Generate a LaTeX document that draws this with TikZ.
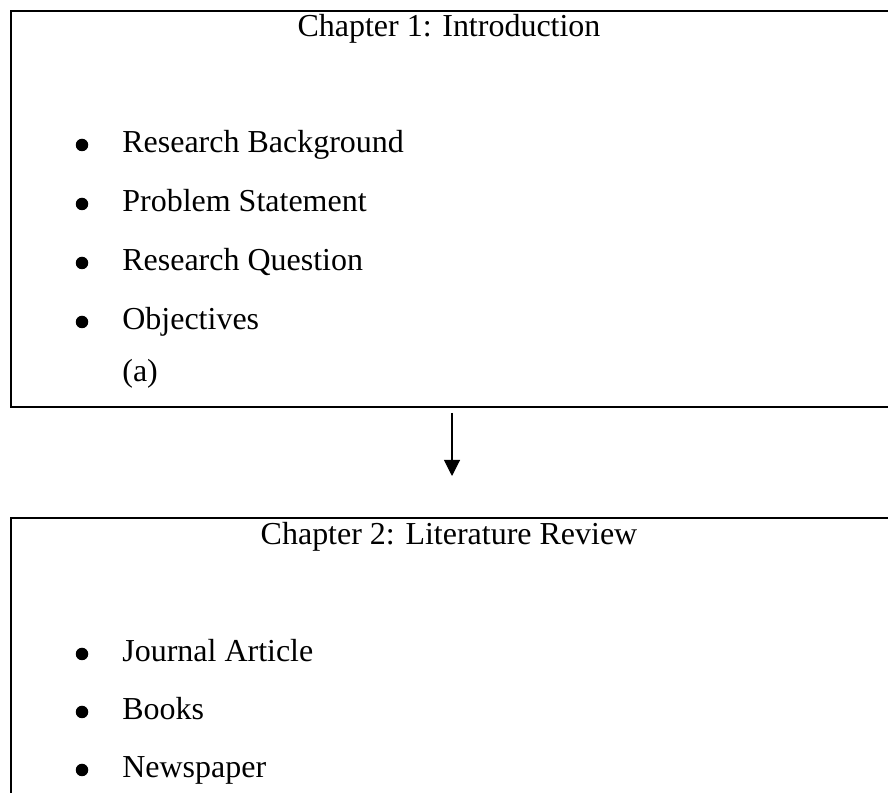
\documentclass[tikz,border=0pt]{standalone}
\usepackage{fontspec}
\setmainfont{Liberation Serif}
\usetikzlibrary{arrows.meta}

\tikzset{
  heading/.style={anchor=base, inner sep=0pt, font=\fontsize{18.2}{22}\selectfont},
  entry/.style={anchor=base west, inner sep=0pt, font=\fontsize{18.2}{22}\selectfont},
  frame/.style={line width=1.2pt}
}

\begin{document}
\begin{tikzpicture}

\useasboundingbox (0,0) rectangle (17.76,15.86); % Page

\draw[frame] (17.76,15.64) -- (0.22,15.64) -- (0.22,7.72) -- (17.76,7.72); % Chapter 1 box
\draw[frame] (17.76,5.50) -- (0.22,5.50) -- (0.22,0); % Chapter 2 box

% Chapter 1
\node[heading] (ch1title) at (8.98,15.12) {Chapter 1: Introduction};
\node[entry] (background) at (2.44,12.80) {Research Background};
\node[entry] (problem) at (2.44,11.62) {Problem Statement};
\node[entry] (question) at (2.44,10.44) {Research Question};
\node[entry] (objectives) at (2.44,9.26) {Objectives};
\node[entry] (suba) at (2.44,8.22) {(a)};

\fill (1.64,12.96) circle (0.125); % Bullet - Background
\fill (1.64,11.78) circle (0.125); % Bullet - Problem
\fill (1.64,10.60) circle (0.125); % Bullet - Question
\fill (1.64,9.42) circle (0.125); % Bullet - Objectives

% Arrow between chapters
\coordinate (flowstart) at (9.04,7.60);
\coordinate (flowend) at (9.04,6.34);
\draw[line width=0.6pt, -{Triangle[width=0.32cm,length=0.32cm]}] (flowstart) -- (flowend);

% Chapter 2
\node[heading] (ch2title) at (8.98,4.96) {Chapter 2: Literature Review};
\node[entry] (journal) at (2.44,2.62) {Journal Article};
\node[entry] (books) at (2.44,1.46) {Books};
\node[entry] (news) at (2.44,0.30) {Newspaper};

\fill (1.64,2.78) circle (0.125); % Bullet - Journal
\fill (1.64,1.62) circle (0.125); % Bullet - Books
\fill (1.64,0.46) circle (0.125); % Bullet - Newspaper

\end{tikzpicture}
\end{document}
